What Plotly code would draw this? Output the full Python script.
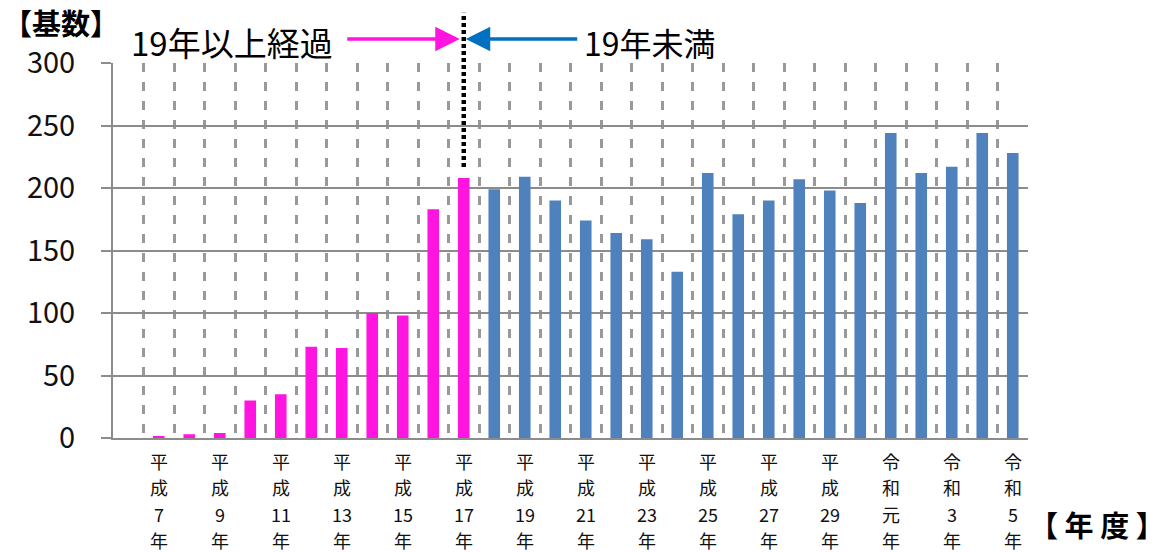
import plotly.graph_objects as go

# ---- data ----
over19_years = ["平成7年", "平成8年", "平成9年", "平成10年", "平成11年", "平成12年",
                "平成13年", "平成14年", "平成15年", "平成16年", "平成17年"]
over19_values = [1, 3, 4, 30, 35, 73, 72, 100, 98, 183, 208]

under19_years = ["平成18年", "平成19年", "平成20年", "平成21年", "平成22年", "平成23年",
                 "平成24年", "平成25年", "平成26年", "平成27年", "平成28年", "平成29年",
                 "平成30年", "令和元年", "令和2年", "令和3年", "令和4年", "令和5年"]
under19_values = [199, 209, 190, 174, 164, 159, 133, 212, 179, 190, 207, 198,
                  188, 244, 212, 217, 244, 228]

# years that get a (vertical) tick label
tick_labels = ["平成7年", "平成9年", "平成11年", "平成13年", "平成15年", "平成17年",
               "平成19年", "平成21年", "平成23年", "平成25年", "平成27年", "平成29年",
               "令和元年", "令和3年", "令和5年"]

y_ticks = [0, 50, 100, 150, 200, 250, 300]

FONT = "Noto Sans CJK JP, Noto Sans, sans-serif"
PINK = "#ff14e0"
BLUE = "#4f81bd"
ARROW_BLUE = "#0070c0"
GRID = "#8c8c8c"

all_years = over19_years + under19_years
x_over = list(range(len(over19_years)))
x_under = list(range(len(over19_years), len(all_years)))
boundary_idx = len(over19_years) - 1

fig = go.Figure()
fig.add_trace(go.Bar(x=x_over, y=over19_values, marker=dict(color=PINK, line=dict(width=0)),
                     width=0.38, name="19年以上経過", hovertext=over19_years))
fig.add_trace(go.Bar(x=x_under, y=under19_values, marker=dict(color=BLUE, line=dict(width=0)),
                     width=0.38, name="19年未満", hovertext=under19_years))

fig.update_layout(
    width=1169, height=552,
    margin=dict(l=113, r=141, t=63, b=114),
    paper_bgcolor="white", plot_bgcolor="white",
    showlegend=False,
    font=dict(family=FONT, color="black"),
    xaxis=dict(
        range=[-1.5, len(all_years) - 0.5],
        automargin=False,
        showticklabels=False,
        showgrid=False, zeroline=False,
        showline=True, linecolor=GRID, linewidth=2,
        ticks="",
        minor=dict(tickmode="linear", tick0=-0.5, dtick=1, showgrid=True,
                   gridcolor="#999999", gridwidth=2.5, griddash="9px,10px", ticks=""),
    ),
    yaxis=dict(
        range=[0, 300],
        automargin=False,
        tickmode="array", tickvals=y_ticks,
        tickfont=dict(size=29, color="#111"),
        showgrid=True, gridcolor=GRID, gridwidth=2,
        zeroline=False,
        showline=True, linecolor=GRID, linewidth=2,
        ticks="outside", ticklen=10, tickcolor=GRID, tickwidth=2,
        ticklabelstandoff=20,
    ),
)

# vertical category labels, one line per annotation
for lab in tick_labels:
    idx = all_years.index(lab)
    lines = [lab[0], lab[1], lab[2:-1], lab[-1]]
    for j, part in enumerate(lines):
        fig.add_annotation(xref="x", yref="paper", x=idx, y=0, xanchor="center", yanchor="middle",
                           yshift=-(23 + j * 26.3), text=part, showarrow=False,
                           font=dict(size=18, color="#111"))

# dotted boundary line at the last 19+ year
fig.add_shape(type="line", xref="x", yref="paper", x0=boundary_idx, x1=boundary_idx,
              y0=0.723, y1=1.134, line=dict(color="black", width=4.5, dash="4px,3px"))

# arrows
fig.add_annotation(xref="x", yref="paper", x=boundary_idx, y=1.064, ax=-118, ay=0,
                   text="", showarrow=True, arrowhead=2, arrowsize=1.4, arrowwidth=3.5,
                   arrowcolor=PINK, standoff=4)
fig.add_annotation(xref="x", yref="paper", x=boundary_idx, y=1.064, ax=115, ay=0,
                   text="", showarrow=True, arrowhead=2, arrowsize=1.4, arrowwidth=3.5,
                   arrowcolor=ARROW_BLUE, standoff=2)

# texts
fig.add_annotation(xref="paper", yref="paper", x=-0.1224, y=1.110, xanchor="left", yanchor="middle",
                   text="<b>【基数】</b>", showarrow=False, font=dict(size=29, color="black"))
fig.add_annotation(xref="paper", yref="paper", x=0.0175, y=1.057, xanchor="left", yanchor="middle",
                   text="19年以上経過", showarrow=False, font=dict(size=33, color="black"))
fig.add_annotation(xref="paper", yref="paper", x=0.5126, y=1.057, xanchor="left", yanchor="middle",
                   text="19年未満", showarrow=False, font=dict(size=32, color="black"))
fig.add_annotation(xref="paper", yref="paper", x=1.1519, y=-0.2285, xanchor="right", yanchor="middle",
                   text="<b>【 年 度 】</b>", showarrow=False, font=dict(size=29, color="black"))

fig.write_html("out.html")
